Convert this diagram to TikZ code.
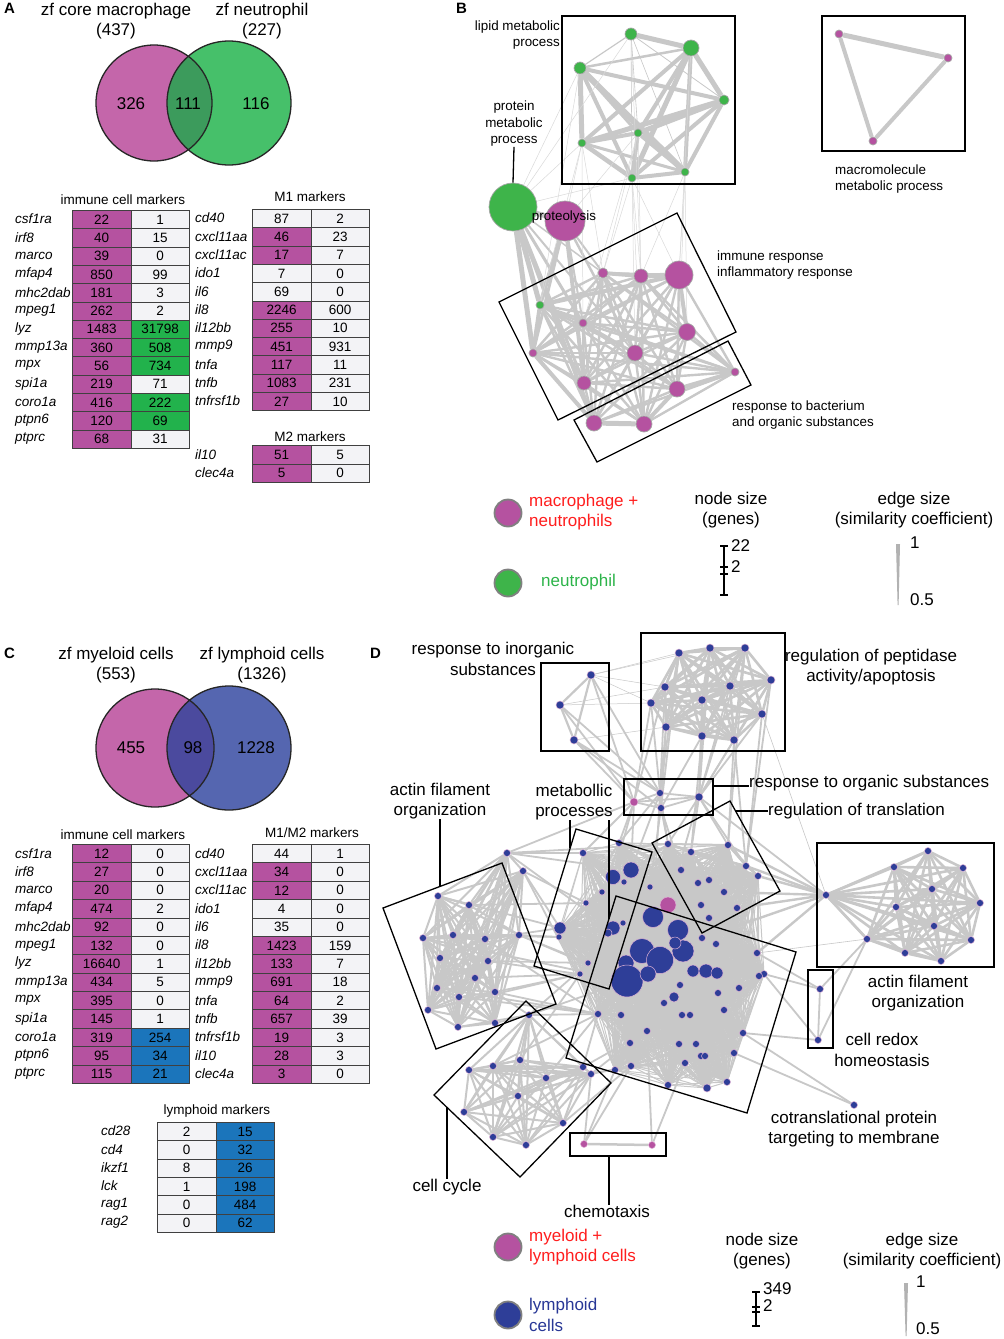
\documentclass[tikz,border=0pt]{standalone}
\usepackage{fontspec}
\setmainfont{Liberation Sans}
\usetikzlibrary{calc}
\pgfdeclarelayer{bgfill}
\pgfdeclarelayer{edges}
\pgfsetlayers{bgfill,edges,main}
\definecolor{mg}{RGB}{181,82,160}
\definecolor{vmg}{RGB}{196,102,170}
\definecolor{tg}{RGB}{34,178,76}
\definecolor{vg}{RGB}{70,192,106}
\definecolor{vgi}{RGB}{60,155,92}
\definecolor{tb}{RGB}{27,117,187}
\definecolor{vb}{RGB}{85,102,176}
\definecolor{vbi}{RGB}{75,74,158}
\definecolor{wt}{RGB}{243,243,246}
\definecolor{ng}{RGB}{62,180,74}
\definecolor{nb}{RGB}{46,62,152}
\definecolor{eg}{RGB}{200,200,200}
\definecolor{lred}{RGB}{255,30,30}
\definecolor{lgreen}{RGB}{45,180,74}
\definecolor{lblue}{RGB}{40,55,150}
\newcommand\fLab{\fontsize{13.4}{16.5}\selectfont}
\newcommand\fTab{\fontsize{13.5}{15}\selectfont}
\newcommand\fBig{\fontsize{17}{20.5}\selectfont}
\newcommand\fLet{\fontsize{15}{18}\selectfont\bfseries}
\newcommand\fullgraph[2]{%
  \foreach \ua [count=\ui] in #1 {\foreach \ub [count=\uj] in #1 {\ifnum\uj>\ui \draw[#2] (\ua) -- (\ub);\fi}}}
\begin{document}
\begin{tikzpicture}[x=1pt,y=-1pt,
  cellbox/.style={rectangle, draw=black!75, line width=0.7, minimum width=58.5, minimum height=18.3, inner sep=0, font=\fTab, anchor=north west},
  genelbl/.style={anchor=west, inner sep=0, font=\fTab\itshape},
  thead/.style={inner sep=0, font=\fTab},
  lab/.style={inner sep=0, font=\fLab, align=left},
  big/.style={inner sep=0, font=\fBig, align=center},
  let/.style={inner sep=0, font=\fLet, anchor=west},
  pn/.style={circle, inner sep=0, draw=gray!70, line width=0.7},
  gnode/.style={pn, fill=ng},
  mnode/.style={pn, fill=mg},
  bnode/.style={circle, inner sep=0, fill=nb, draw=mg!45, line width=0.5},
  dnode/.style={circle, inner sep=0, fill=mg, draw=mg!45, line width=0.5},
  edge/.style={draw=eg, line width=#1},
  edge/.default=1.2,
  boxline/.style={draw=black, line width=1.3},
  legc/.style={circle, inner sep=0, minimum size=27, draw=gray, line width=1.8}
]
\useasboundingbox (0,0) rectangle (1004,1339);
\begin{pgfonlayer}{bgfill}
\fill[white] (0,0) rectangle (1004,1339);
\end{pgfonlayer}

% ================= Panel A =================
\node[let] (letA) at (4,8) {A};
\node[big] (hA1) at (116,21) {zf core macrophage\\(437)};
\node[big] (hA2) at (262,21) {zf neutrophil\\(227)};
\fill[vmg] (154,103) circle (58);
\fill[vg] (229,103) circle (62);
\begin{scope}\clip (154,103) circle (58); \fill[vgi] (229,103) circle (62);\end{scope}
\draw[line width=1.3, black!85] (154,103) circle (58) (229,103) circle (62);
\node[big] (vA1) at (131,104) {326};
\node[big] (vA2) at (188,104) {111};
\node[big] (vA3) at (256,104) {116};

\node[thead] (tA1) at (123,200) {immune cell markers};
\foreach \g/\a/\fa/\b/\fb [count=\i from 0] in {
 csf1ra/22/mg/1/wt, irf8/40/mg/15/wt, marco/39/mg/0/wt, mfap4/850/mg/99/wt, mhc2dab/181/mg/3/wt, mpeg1/262/mg/2/wt, lyz/1483/mg/31798/tg, mmp13a/360/mg/508/tg, mpx/56/mg/734/tg, spi1a/219/mg/71/wt, coro1a/416/mg/222/tg, ptpn6/120/mg/69/tg, ptprc/68/mg/31/wt}{
 \node[genelbl] (Ag\i) at (15, 219.15+\i*18.3) {\g};
 \node[cellbox, fill=\fa] (Aa\i) at (72, 210+\i*18.3) {\a};
 \node[cellbox, fill=\fb] (Ab\i) at (130.5, 210+\i*18.3) {\b};
}
\node[thead] (tA2) at (310,197) {M1 markers};
\foreach \g/\a/\fa/\b/\fb [count=\i from 0] in {
 cd40/87/wt/2/wt, cxcl11aa/46/mg/23/wt, cxcl11ac/17/mg/7/wt, ido1/7/wt/0/wt, il6/69/wt/0/wt, il8/2246/mg/600/wt, il12bb/255/mg/10/wt, mmp9/451/mg/931/wt, tnfa/117/mg/11/wt, tnfb/1083/mg/231/wt, tnfrsf1b/27/mg/10/wt}{
 \node[genelbl] (AMg\i) at (195, 218.15+\i*18.3) {\g};
 \node[cellbox, fill=\fa] (AMa\i) at (252, 209+\i*18.3) {\a};
 \node[cellbox, fill=\fb] (AMb\i) at (310.5, 209+\i*18.3) {\b};
}
\node[thead] (tA3) at (310,437) {M2 markers};
\foreach \g/\a/\fa/\b/\fb [count=\i from 0] in {il10/51/mg/5/wt, clec4a/5/mg/0/wt}{
 \node[genelbl] (ANg\i) at (195, 454.3+\i*18.5) {\g};
 \node[cellbox, fill=\fa, minimum height=18.5] (ANa\i) at (252, 445+\i*18.5) {\a};
 \node[cellbox, fill=\fb, minimum height=18.5] (ANb\i) at (310.5, 445+\i*18.5) {\b};
}

% ================= Panel C =================
\node[let] (letC) at (4,653) {C};
\node[big] (hC1) at (116,665) {zf myeloid cells\\(553)};
\node[big] (hC2) at (262,665) {zf lymphoid cells\\(1326)};
\fill[vmg] (155,748) circle (59);
\fill[vb] (229,748) circle (62);
\begin{scope}\clip (155,748) circle (59); \fill[vbi] (229,748) circle (62);\end{scope}
\draw[line width=1.3, black!85] (155,748) circle (59) (229,748) circle (62);
\node[big] (vC1) at (131,748) {455};
\node[big] (vC2) at (193,748) {98};
\node[big] (vC3) at (256,748) {1228};

\node[thead] (tC1) at (123,835) {immune cell markers};
\foreach \g/\a/\fa/\b/\fb [count=\i from 0] in {
 csf1ra/12/mg/0/wt, irf8/27/mg/0/wt, marco/20/mg/0/wt, mfap4/474/mg/2/wt, mhc2dab/92/mg/0/wt, mpeg1/132/mg/0/wt, lyz/16640/mg/1/wt, mmp13a/434/mg/5/wt, mpx/395/mg/0/wt, spi1a/145/mg/1/wt, coro1a/319/mg/254/tb, ptpn6/95/mg/34/tb, ptprc/115/mg/21/tb}{
 \node[genelbl] (Cg\i) at (15, 853.2+\i*18.38) {\g};
 \node[cellbox, fill=\fa, minimum height=18.38] (Ca\i) at (72, 844+\i*18.38) {\a};
 \node[cellbox, fill=\fb, minimum height=18.38] (Cb\i) at (130.5, 844+\i*18.38) {\b};
}
\node[thead] (tC2) at (312,833) {M1/M2 markers};
\foreach \g/\a/\fa/\b/\fb [count=\i from 0] in {
 cd40/44/wt/1/wt, cxcl11aa/34/mg/0/wt, cxcl11ac/12/mg/0/wt, ido1/4/wt/0/wt, il6/35/wt/0/wt, il8/1423/mg/159/wt, il12bb/133/mg/7/wt, mmp9/691/mg/18/wt, tnfa/64/mg/2/wt, tnfb/657/mg/39/wt, tnfrsf1b/19/mg/3/wt, il10/28/mg/3/wt, clec4a/3/mg/0/wt}{
 \node[genelbl] (CMg\i) at (195, 853.2+\i*18.38) {\g};
 \node[cellbox, fill=\fa, minimum height=18.38] (CMa\i) at (252, 844+\i*18.38) {\a};
 \node[cellbox, fill=\fb, minimum height=18.38] (CMb\i) at (310.5, 844+\i*18.38) {\b};
}
\node[thead] (tC3) at (217,1111) {lymphoid markers};
\foreach \g/\a/\fa/\b/\fb [count=\i from 0] in {
 cd28/2/wt/15/tb, cd4/0/wt/32/tb, ikzf1/8/wt/26/tb, lck/1/wt/198/tb, rag1/0/wt/484/tb, rag2/0/wt/62/tb}{
 \node[genelbl] (CLg\i) at (101, 1131.15+\i*18.3) {\g};
 \node[cellbox, fill=\fa] (CLa\i) at (157, 1122+\i*18.3) {\a};
 \node[cellbox, fill=\fb] (CLb\i) at (215.5, 1122+\i*18.3) {\b};
}

% ================= Panel B =================
\node[let] (letB) at (456,8) {B};
\node[gnode, minimum size=12] (L1) at (631,34) {};
\node[gnode, minimum size=16] (L2) at (691,48) {};
\node[gnode, minimum size=12] (L3) at (580,68) {};
\node[gnode, minimum size=10] (L4) at (724,100) {};
\node[gnode, minimum size=8] (L5) at (638,133) {};
\node[gnode, minimum size=8] (L6) at (582,143) {};
\node[gnode, minimum size=8] (L7) at (632,178) {};
\node[gnode, minimum size=8] (L8) at (685,172) {};
\node[gnode, minimum size=48] (G) at (513,207) {};
\node[mnode, minimum size=40] (P) at (565,221) {};
\node[mnode, minimum size=10] (I1) at (603,273) {};
\node[mnode, minimum size=14] (I2) at (641,276) {};
\node[mnode, minimum size=28] (I3) at (679,275) {};
\node[gnode, minimum size=8] (I4) at (540,305) {};
\node[mnode, minimum size=8] (I5) at (583,323) {};
\node[mnode, minimum size=17] (I6) at (687,332) {};
\node[mnode, minimum size=16] (I7) at (635,353) {};
\node[mnode, minimum size=8] (I8) at (533,353) {};
\node[mnode, minimum size=14] (I9) at (584,383) {};
\node[mnode, minimum size=16] (R1) at (677,389) {};
\node[mnode, minimum size=8] (R2) at (735,372) {};
\node[mnode, minimum size=16] (R3) at (594,423) {};
\node[mnode, minimum size=16] (R4) at (644,424) {};
\node[mnode, minimum size=8] (M1) at (839,34) {};
\node[mnode, minimum size=8] (M2) at (948,58) {};
\node[mnode, minimum size=8] (M3) at (873,141) {};

\begin{pgfonlayer}{edges}
\foreach \a/\b/\w in {L1/L2/5, L1/L3/1.2, L2/L3/2.5, L1/L4/0.8, L1/L5/0.6, L1/L7/0.6, L1/L8/0.6, L2/L4/5, L2/L5/4, L2/L6/4, L2/L7/5, L2/L8/4, L3/L4/4, L3/L5/3, L3/L6/5, L3/L7/4, L3/L8/6, L4/L5/5, L4/L6/5, L4/L7/4, L4/L8/4, L5/L6/4, L5/L7/4, L5/L8/4, L6/L7/4.5, L6/L8/3, L7/L8/4, M1/M2/5, M2/M3/4, M1/M3/4,
 G/P/5, G/I4/5, G/I8/5, G/I9/3, G/I5/3, G/I7/2, G/R3/4, G/I1/1.5, P/I4/4, P/I9/4, P/I5/2, P/I8/3, P/I1/2, P/I7/2.5, I2/I3/5, I1/I2/4, R3/R4/5, R1/R4/4, R1/R2/4, I3/I4/4, I3/I6/4, I4/I8/4, I8/R3/4}
  \draw[edge=\w] (\a) -- (\b);
\foreach \a/\b in {L3/G, L6/G, L6/P, L6/I4, L6/I1, L5/I2, L5/I1, L7/I1, L7/I2, L7/I7, L8/I3, L8/I6, L1/I2, L7/I3, L5/I5, L6/I5, L8/R1, L7/R4, L8/I2, G/L7, P/L5, L1/G, L3/I4, L2/I3}
  \draw[draw=eg!70, line width=0.5] (\a) -- (\b);
\def\Bimm{I1,I2,I3,I4,I5,I6,I7,I8,I9,R1,R2,R3,R4}
\fullgraph{\Bimm}{edge=2.4}
\end{pgfonlayer}

\draw[boxline] (562,16) rectangle (735,184);
\draw[boxline] (822,16) rectangle (965,151);
\draw[boxline] (499,302) -- (677,213) -- (736,332) -- (558,420) -- cycle;
\draw[boxline] (574,420) -- (728,341) -- (751,385) -- (597,462) -- cycle;

\node[lab, align=right, anchor=east] (lblLip) at (560,35) {lipid metabolic\\process};
\node[lab, align=center] (lblProt) at (514,124) {protein\\metabolic\\process};
\draw[line width=1.3] (lblProt.south) -- (G.north);
\node[lab, anchor=center] (lblProteo) at (564,217) {proteolysis};
\node[lab, anchor=west] (lblMacro) at (835,179) {macromolecule\\metabolic process};
\node[lab, anchor=west] (lblImm) at (717,265) {immune response\\inflammatory response};
\node[lab, anchor=west] (lblBact) at (732,415) {response to bacterium\\and organic substances};

% legend B
\node[legc, fill=mg] (legB1) at (508,513) {};
\node[big, align=left, anchor=west, text=lred] (legB1t) at (529,512) {macrophage +\\neutrophils};
\node[legc, fill=ng] (legB2) at (508,583) {};
\node[big, anchor=west, text=lgreen] (legB2t) at (541,582) {neutrophil};
\node[big] (legB3) at (731,510) {node size\\(genes)};
\node[big] (legB4) at (914,510) {edge size\\(similarity coefficient)};
\draw[line width=1.5] (724,546) -- (724,595);
\foreach \yy in {546,567,574,595} \draw[line width=1.5] (720,\yy) -- (728,\yy);
\node[big, anchor=west] (legB5) at (731,546) {22};
\node[big, anchor=west] (legB6) at (731,567) {2};
\fill[gray!60] (896,544) -- (900,544) -- (898.6,605) -- (897.6,605) -- cycle;
\node[big, anchor=west] (legB7) at (910,543) {1};
\node[big, anchor=west] (legB8) at (910,600) {0.5};

% ================= Panel D =================
\node[let] (letD) at (370,653) {D};
\foreach \x/\y [count=\k] in {591/675, 560/705, 574/740} \node[bnode, minimum size=8] (n\k) at (\x,\y) {};
\foreach \x/\y [count=\k] in {679/653, 710/648, 745/648, 771/680, 730/686, 665/687, 702/700, 651/703, 762/714, 666/727, 702/736, 734/740}
  \node[bnode, minimum size=8] (p\k) at (\x,\y) {};
\node[dnode, minimum size=8] (o1) at (634,802) {};
\node[bnode, minimum size=7] (o2) at (660,793) {};
\node[bnode, minimum size=7] (o3) at (661,808) {};
\node[bnode, minimum size=8] (o4) at (699,797) {};
\foreach \x/\y [count=\k] in {668/844, 691/852, 728/845, 681/870, 746/866, 758/876, 698/883, 709/880, 724/892, 701/905, 737/908, 709/918}
  \node[bnode, minimum size=7] (t\k) at (\x,\y) {};
\foreach \x/\y/\d [count=\k] in {619/843/7, 583/853/7, 631/870/16, 613/877/15, 624/882/6, 602/892/6, 586/903/6, 560/928/12, 559/937/6, 613/928/14, 608/933/8, 588/963/6, 580/974/6, 650/887/6, 623/923/6}
  \node[bnode, minimum size=\d] (m\k) at (\x,\y) {};
\foreach \x/\y/\d [count=\k] in {653/917/21, 678/930/21, 683/951/22, 675/943/12, 642/951/25, 660/960/27, 626/963/16, 627/981/32, 648/974/16, 693/971/12, 706/971/14, 717/973/12, 674/997/10,
  702/938/7, 716/944/7, 757/953/7, 764/974/7, 759/976/7, 739/988/7, 718/993/7, 680/985/7, 664/1003/7, 598/1014/7, 621/1015/7, 682/1015/7, 690/1015/7, 724/1010/7, 743/1033/7, 647/1031/7, 630/1043/7, 679/1044/7, 696/1044/7, 701/1056/7, 705/1056/7, 734/1053/7, 685/1063/7, 631/1066/7, 615/1070/7, 668/1085/7, 707/1088/8, 727/1082/7}
  \node[bnode, minimum size=\d] (c\k) at (\x,\y) {};
\node[dnode, minimum size=16] (cp) at (668,905) {};
\foreach \x/\y [count=\k] in {507/853, 523/871, 438/896, 469/905, 423/938, 453/935, 485/939, 519/935, 440/958, 488/961, 475/978, 437/988, 459/997, 495/992, 428/1010, 458/1027, 495/1023}
  \node[bnode, minimum size=7] (a\k) at (\x,\y) {};
\foreach \x/\y [count=\k] in {529/1015, 520/1060, 469/1070, 546/1078, 583/1067, 591/1074, 518/1096, 464/1112, 563/1123, 493/1137, 526/1145, 493/1066}
  \node[bnode, minimum size=7] (y\k) at (\x,\y) {};
\node[dnode, minimum size=7] (h1) at (584,1144) {};
\node[dnode, minimum size=7] (h2) at (652,1145) {};
\foreach \x/\y [count=\k] in {928/851, 894/867, 963/868, 826/895, 932/889, 980/903, 896/907, 934/926, 971/940, 867/939, 905/953, 941/961}
  \node[bnode, minimum size=7] (r\k) at (\x,\y) {};
\node[bnode, minimum size=7] (x1) at (820,989) {};
\node[bnode, minimum size=7] (x2) at (818,1040) {};
\node[bnode, minimum size=7] (z1) at (854,1105) {};

\begin{pgfonlayer}{edges}
\def\Dcore{m1,m2,m3,m4,m5,m6,m7,m8,m9,m10,m11,m12,m13,m14,m15,cp,c1,c2,c3,c4,c5,c6,c7,c8,c9,c10,c11,c12,c13,c14,c15,c16,c17,c18,c19,c20,c21,c22,c23,c24,c25,c26,c27,c28,c29,c30,c31,c32,c33,c34,c35,c36,c37,c38,c39,c40,c41,t1,t2,t3,t4,t5,t6,t7,t8,t9,t10,t11,t12}
\fullgraph{\Dcore}{edge=1}
\def\Dpep{p1,p2,p3,p4,p5,p6,p7,p8,p9,p10,p11,p12}
\fullgraph{\Dpep}{edge=2.6}
\def\Dinorg{n1,n2,n3}
\fullgraph{\Dinorg}{edge=2.2}
\def\Dorg{o1,o2,o3,o4}
\fullgraph{\Dorg}{edge=1.8}
\def\Dact{a1,a2,a3,a4,a5,a6,a7,a8,a9,a10,a11,a12,a13,a14,a15,a16,a17}
\fullgraph{\Dact}{edge=2}
\def\Dcyc{y1,y2,y3,y4,y5,y6,y7,y8,y9,y10,y11,y12}
\fullgraph{\Dcyc}{edge=2}
\def\Dract{r1,r2,r3,r4,r5,r6,r7,r8,r9,r10,r11,r12}
\fullgraph{\Dract}{edge=2.6}
\def\Dtr{t1,t2,t3,t4,t5,t6,t7,t8,t9,t10,t11,t12}
\fullgraph{\Dtr}{edge=2}
\foreach \a/\b in {n1/p6, n1/p8, n1/p1, n2/p8, n3/p10, n2/p6, n1/p2}
  \draw[edge=0.5] (\a) -- (\b);
\foreach \a/\b in {n1/o1, n2/o1, n3/o1, n1/o2, n2/o2, n3/o2, n3/o3,
  p6/o2, p8/o1, p8/o2, p10/o2, p10/o3, p11/o4, p12/o4, p7/o4, p1/o3, p5/o4, p9/o4, p4/o4, p6/o1, p2/o4, p3/o4, p11/o3, p1/o2,
  p12/t3, p11/t2, p9/t5, p4/t5, p3/t3, p12/t5,
  o1/m1, o1/m3, o2/c1, o3/t1, o4/t3, o4/t2, o2/m1, o3/m14, o1/m2, o4/cp, o4/t5, o1/m4, o2/t1, o3/t4, o2/m3, o4/t1, o1/a1,
  a1/m2, a2/m7, a1/m3, a2/m8, a7/m8, a8/m9, a8/c8, a1/c5, a10/m12, a14/m13, a2/c23, a8/m12, a17/y1, a14/c23, a1/t1,
  a3/m8, a5/c8, a7/c23, a10/c8, a11/m13, a13/c23, a6/m9, a4/m7, a12/c23, a15/m13, a16/y1, a14/y1,
  y1/c23, y1/m12, y5/c23, y6/c37, y1/c8, y4/c38, y9/c37, y2/m13, y5/c29, y6/c30, y4/c23, y12/c23,
  h1/c38, h1/y6, h2/c36, h2/c29, h1/c37,
  x1/c16, x1/c17, x2/c28, x2/c17, x1/x2, z1/c35, z1/c28, r10/x1, r10/x2, o4/r4}
  \draw[edge=1.8] (\a) -- (\b);
\draw[edge=2.5] (h1) -- (h2);
\foreach \a/\b in {r4/t5, r4/t6, r4/c16, r4/t3, r4/t11, r4/c14, r4/t9, r4/r10}
  \draw[edge=2.4] (\a) -- (\b);
\draw[edge=0.6] (r10) -- (c16);
\draw[edge=0.6] (p9) -- (r4);
\end{pgfonlayer}

\draw[boxline] (541,663) rectangle (609,751);
\draw[boxline] (641,633) rectangle (785,751);
\draw[boxline] (624,779) rectangle (713,815);
\draw[boxline] (652,843) -- (730,801) -- (780,891) -- (702,933) -- cycle;
\draw[boxline] (576,829) -- (652,852) -- (609,989) -- (534,966) -- cycle;
\draw[boxline] (616,896) -- (796,952) -- (747,1113) -- (566,1058) -- cycle;
\draw[boxline] (383,908) -- (502,863) -- (556,1004) -- (436,1049) -- cycle;
\draw[boxline] (434,1095) -- (526,1001) -- (611,1083) -- (520,1177) -- cycle;
\draw[boxline] (570,1133) rectangle (666,1156);
\draw[boxline] (817,843) rectangle (994,967);
\draw[boxline] (808,970) rectangle (833,1048);

\node[big] (lblInorg) at (493,659) {response to inorganic\\substances};
\node[big] (lblPept) at (871,667) {regulation of peptidase\\activity/apoptosis};
\node[big, anchor=west] (lblOrg) at (749,783) {response to organic substances};
\node[big, anchor=west] (lblTrans) at (768,811) {regulation of translation};
\node[big] (lblActL) at (440,801) {actin filament\\organization};
\node[big] (lblMeta) at (574,802) {metabollic\\processes};
\node[big] (lblActR) at (918,993) {actin filament\\organization};
\node[big] (lblRedox) at (882,1050) {cell redox\\homeostasis};
\node[big] (lblCotr) at (854,1129) {cotranslational protein\\targeting to membrane};
\node[big] (lblCycle) at (447,1187) {cell cycle};
\node[big] (lblChemo) at (607,1211) {chemotaxis};

\coordinate (kActL) at (440,886);
\coordinate (kMetaA) at (570,848);
\coordinate (kMetaB) at (609,919);
\coordinate (kCyc) at (447,1107);
\coordinate (kChemo) at (609,1156);
\coordinate (kOrg) at (713,786);
\coordinate (kTrans) at (736,811);
\draw[line width=1.3] (lblActL.south) -- (kActL);
\draw[line width=1.3] (lblMeta.south -| kMetaA) -- (kMetaA);
\draw[line width=1.3] (lblMeta.south -| kMetaB) -- (kMetaB);
\draw[line width=1.3] (kCyc) -- (lblCycle.north -| kCyc);
\draw[line width=1.3] (kChemo) -- (lblChemo.north -| kChemo);
\draw[line width=1.3] (kOrg) -- (kOrg -| lblOrg.west);
\draw[line width=1.3] (kTrans) -- (kTrans -| lblTrans.west);

\node[legc, fill=mg] (legD1) at (508,1247) {};
\node[big, align=left, anchor=west, text=lred] (legD1t) at (529,1247) {myeloid +\\lymphoid cells};
\node[legc, fill=nb] (legD2) at (508,1315) {};
\node[big, align=left, anchor=west, text=lblue] (legD2t) at (529,1315) {lymphoid\\cells};
\node[big] (legD3) at (762,1251) {node size\\(genes)};
\node[big] (legD4) at (922,1251) {edge size\\(similarity coefficient)};
\draw[line width=1.5] (756,1292) -- (756,1326);
\foreach \yy in {1292,1307,1312,1326} \draw[line width=1.5] (752,\yy) -- (760,\yy);
\node[big, anchor=west] (legD5) at (763,1289) {349};
\node[big, anchor=west] (legD6) at (763,1306) {2};
\fill[gray!60] (904,1283) -- (908,1283) -- (906.6,1336) -- (905.6,1336) -- cycle;
\node[big, anchor=west] (legD7) at (916,1282) {1};
\node[big, anchor=west] (legD8) at (916,1329) {0.5};
\end{tikzpicture}
\end{document}
